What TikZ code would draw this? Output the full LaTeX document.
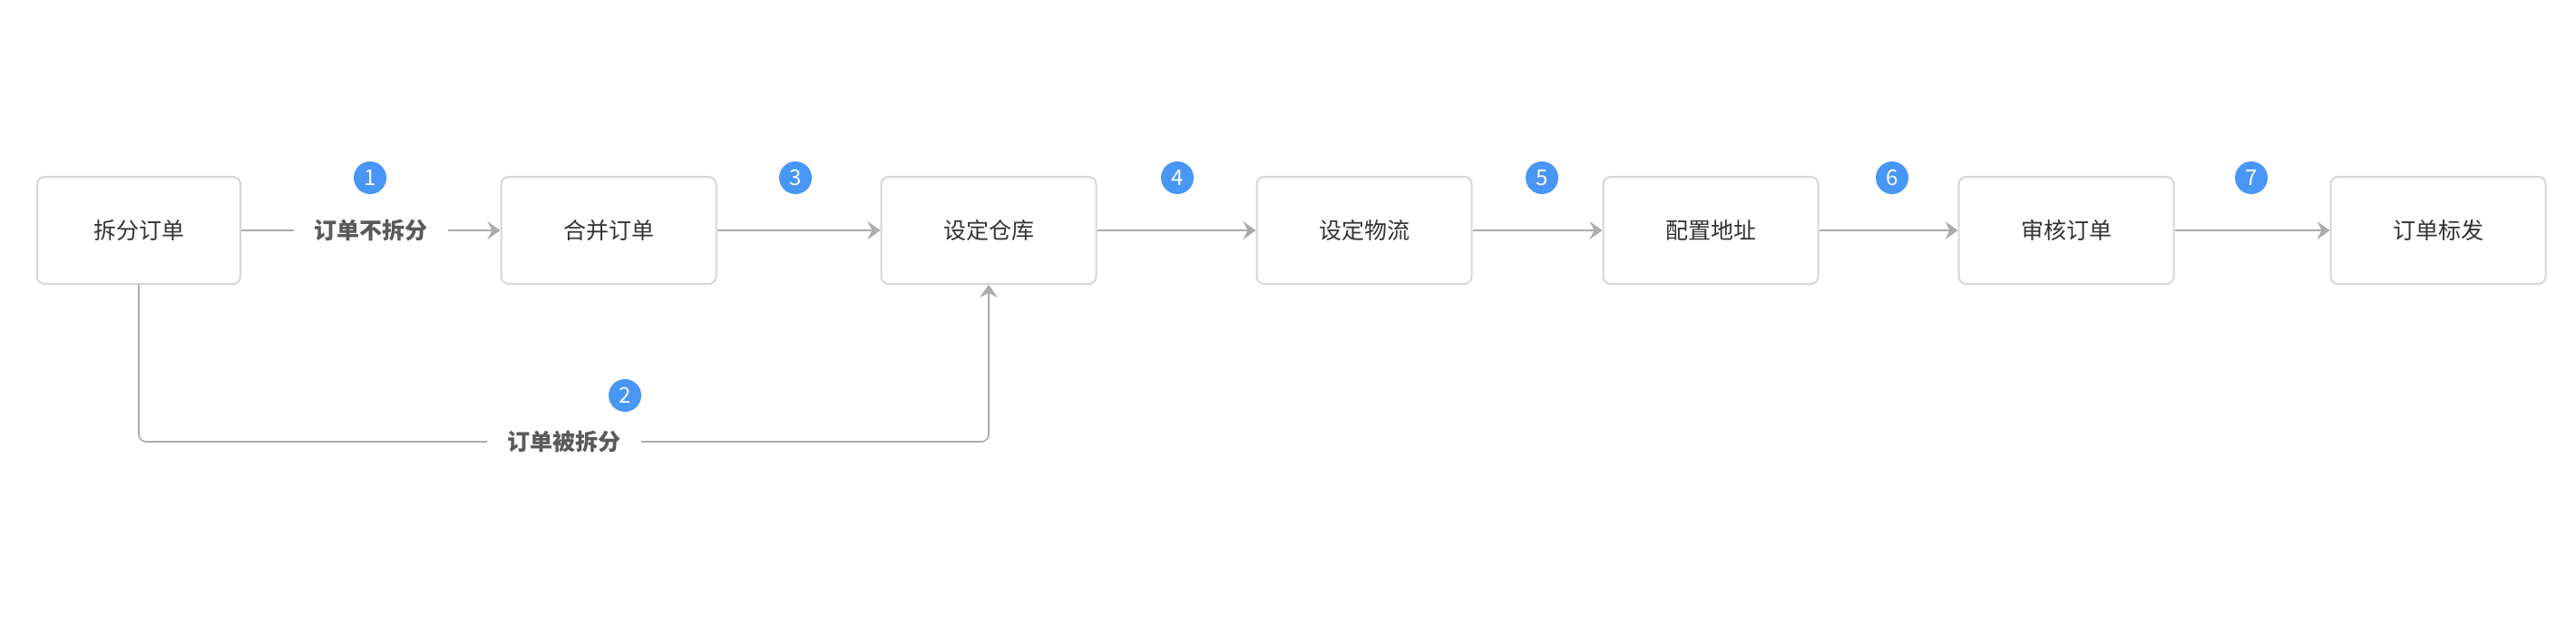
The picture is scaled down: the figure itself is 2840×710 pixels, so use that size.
\documentclass[tikz,border=0pt]{standalone}
\usepackage{fontspec}
\setmainfont{Noto Sans CJK SC}
\usetikzlibrary{arrows.meta}
\definecolor{boxline}{HTML}{D6D6D6}
\definecolor{conn}{HTML}{ABABAB}
\definecolor{txt}{HTML}{333333}
\definecolor{labtxt}{HTML}{5A5A5A}
\definecolor{badge}{HTML}{4896F5}
\tikzset{
  stepbox/.style={draw=boxline, line width=1pt, rounded corners=4pt, fill=white,
    minimum width=118.5pt, minimum height=59pt, inner sep=0pt, text=txt,
    font=\fontsize{12.5pt}{14pt}\selectfont},
  edgelab/.style={fill=white, inner xsep=11pt, inner ysep=2pt, text=labtxt,
    font=\fontsize{12.5pt}{14pt}\selectfont\bfseries},
  badgenode/.style={circle, fill=badge, text=white, minimum size=18pt, inner sep=0pt,
    font=\fontsize{12pt}{13pt}\selectfont},
  conline/.style={draw=conn, line width=0.8pt},
  arr/.style={conline, -{Stealth[length=7pt,width=10pt,inset=2.5pt]}}
}
\begin{document}
\begin{tikzpicture}[x=0.5pt,y=-0.5pt]
\useasboundingbox (0,0) rectangle (2840,710);
\node[stepbox, minimum width=112pt] (b1) at (153,254) {拆分订单};
\node[stepbox] (b2) at (671,254) {合并订单};
\node[stepbox] (b3) at (1090,254) {设定仓库};
\node[stepbox] (b4) at (1504,254) {设定物流};
\node[stepbox] (b5) at (1886,254) {配置地址};
\node[stepbox] (b6) at (2278,254) {审核订单};
\node[stepbox] (b7) at (2688,254) {订单标发};

\node[edgelab] (l1) at (409,254) {订单不拆分};
\node[edgelab] (l2) at (622,487) {订单被拆分};

\draw[conline] (b1) -- (l1);
\draw[arr] (l1) -- (b2);
\draw[conline, rounded corners=4pt] (b1.south) |- (l2.west);
\draw[arr, rounded corners=4pt] (l2.east) -| (b3.south);
\draw[arr] (b2) -- (b3);
\draw[arr] (b3) -- (b4);
\draw[arr] (b4) -- (b5);
\draw[arr] (b5) -- (b6);
\draw[arr] (b6) -- (b7);

\node[badgenode] (n1) at (408,196) {1};
\node[badgenode] (n2) at (689,436) {2};
\node[badgenode] (n3) at (877,196) {3};
\node[badgenode] (n4) at (1298,196) {4};
\node[badgenode] (n5) at (1700,196) {5};
\node[badgenode] (n6) at (2086,196) {6};
\node[badgenode] (n7) at (2482,196) {7};
\end{tikzpicture}
\end{document}
